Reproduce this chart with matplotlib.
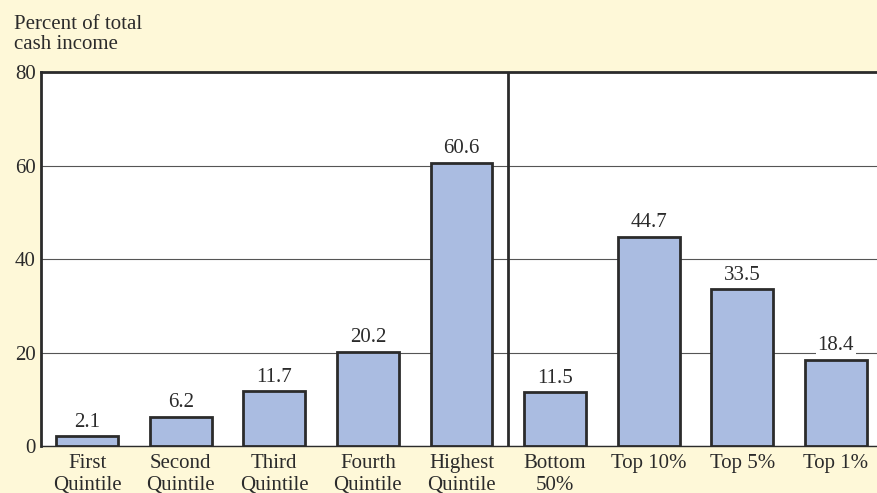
import numpy as np
import matplotlib.pyplot as plt

groups = ["First\nQuintile", "Second\nQuintile", "Third\nQuintile", "Fourth\nQuintile",
          "Highest\nQuintile", "Bottom\n50%", "Top 10%", "Top 5%", "Top 1%"]
shares = [2.1, 6.2, 11.7, 20.2, 60.6, 11.5, 44.7, 33.5, 18.4]
yticks = [0, 20, 40, 60, 80]

cream = "#fef8d8"
bar_col = "#aabce1"
ink = "#2b2b2b"
fs = 15

plt.rcParams['font.family'] = ['Liberation Serif', 'DejaVu Serif']

fig = plt.figure(figsize=(8.77, 4.93), dpi=100, facecolor=cream)
ax = fig.add_axes([0.047, 0.095, 0.953, 0.759])
ax.set_facecolor("white")

x = np.arange(len(groups))
ax.set_axisbelow(True)
ax.bar(x, shares, width=0.66, color=bar_col, edgecolor=ink, linewidth=2, zorder=3)
for xi, v in zip(x, shares):
    ax.text(xi, v + 1.0, f"{v:.1f}", ha="center", va="bottom", fontsize=fs, color=ink,
            bbox=dict(facecolor="white", edgecolor="none", pad=1.0), zorder=4)

# divider between quintiles and top groups
ax.axvline(4.5, color=ink, linewidth=2, zorder=5)

ax.set_xlim(-0.49, 8.44)
ax.set_ylim(0, 80)
ax.set_yticks(yticks)
ax.yaxis.grid(True, color="#555555", linewidth=0.8)
ax.set_xticks(x)
ax.set_xticklabels(groups, fontsize=fs, color=ink, linespacing=1.15)
ax.tick_params(axis="both", length=0, colors=ink, labelsize=fs)
ax.tick_params(axis="x", pad=6)
ax.tick_params(axis="y", pad=4)

for side in ["left", "top"]:
    ax.spines[side].set_color(ink)
    ax.spines[side].set_linewidth(2)
ax.spines["right"].set_visible(False)
ax.spines["bottom"].set_color(ink)
ax.spines["bottom"].set_linewidth(1)

fig.text(0.016, 0.97, "Percent of total\ncash income", ha="left", va="top",
         fontsize=fs, color=ink, linespacing=1.1)

fig.savefig("out.png", dpi=100, facecolor=cream)
